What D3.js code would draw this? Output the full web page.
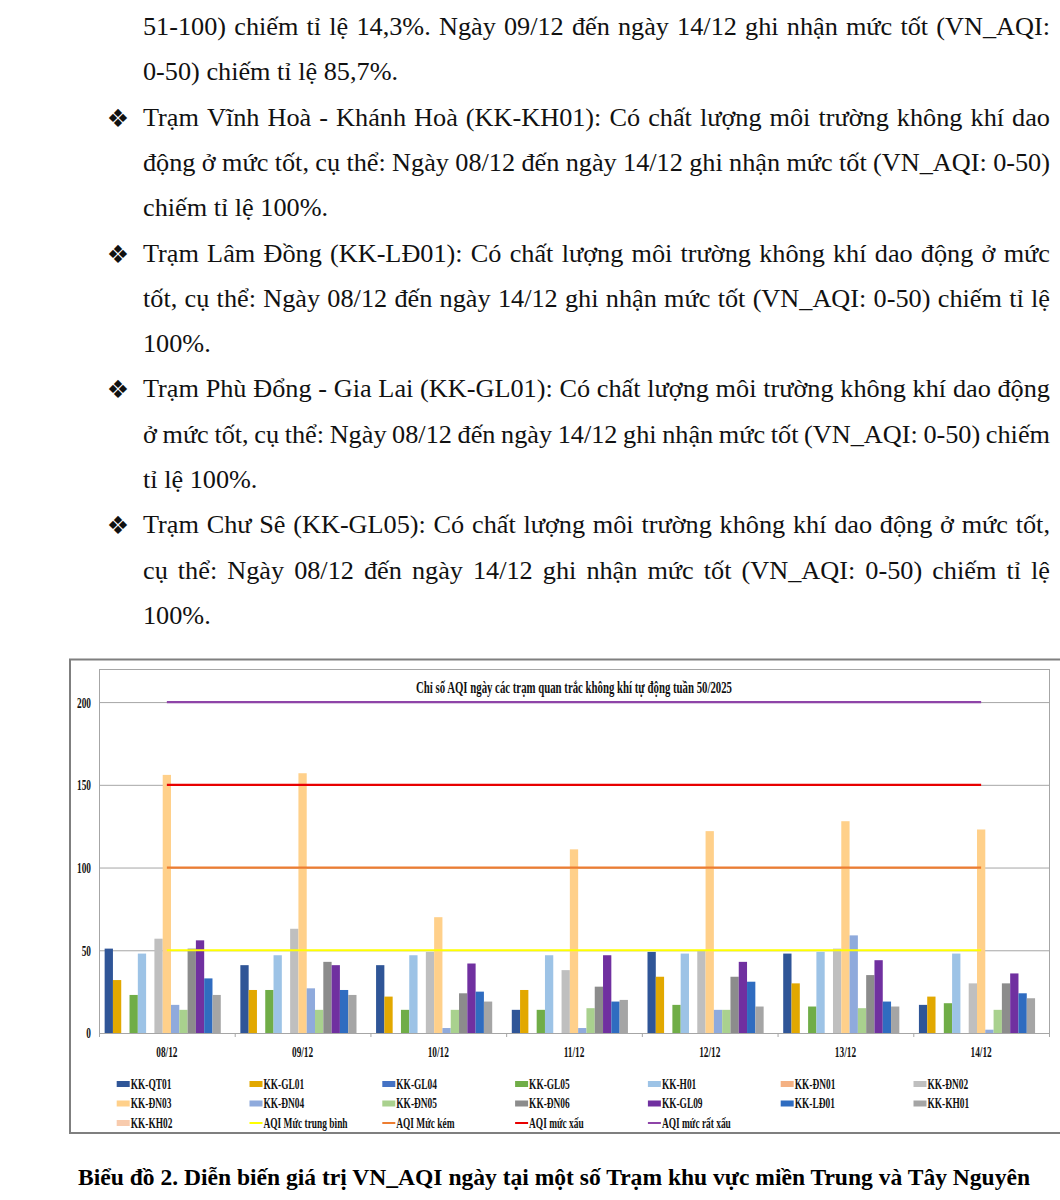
<!DOCTYPE html>
<html>
<head>
<meta charset="utf-8">
<script src="https://cdn.jsdelivr.net/npm/d3@7"></script>
<style>
  body { margin: 0; background: #fff; }
  svg { display: block; }
  .body-text { font-family: "Liberation Serif", "Times New Roman", serif; font-size: 25px; fill: #111; }
  .bullet { font-family: "DejaVu Sans", sans-serif; font-size: 25px; fill: #111; }
  .chart-text { font-family: "Liberation Serif", "Times New Roman", serif; font-weight: bold; fill: #111; }
  .caption { font-family: "Liberation Serif", "Times New Roman", serif; font-weight: bold; font-size: 23px; fill: #000; }
</style>
</head>
<body>
<div id="page"></div>
<script>
// report text above the chart (one entry per printed line)
var textLines = [
  {t: "51-100) chiếm tỉ lệ 14,3%. Ngày 09/12 đến ngày 14/12 ghi nhận mức tốt (VN_AQI:", bullet: false, justify: true},
  {t: "0-50) chiếm tỉ lệ 85,7%.", bullet: false, justify: false},
  {t: "Trạm Vĩnh Hoà - Khánh Hoà (KK-KH01): Có chất lượng môi trường không khí dao", bullet: true, justify: true},
  {t: "động ở mức tốt, cụ thể: Ngày 08/12 đến ngày 14/12 ghi nhận mức tốt (VN_AQI: 0-50)", bullet: false, justify: true},
  {t: "chiếm tỉ lệ 100%.", bullet: false, justify: false},
  {t: "Trạm Lâm Đồng (KK-LĐ01): Có chất lượng môi trường không khí dao động ở mức", bullet: true, justify: true},
  {t: "tốt, cụ thể: Ngày 08/12 đến ngày 14/12 ghi nhận mức tốt (VN_AQI: 0-50) chiếm tỉ lệ", bullet: false, justify: true},
  {t: "100%.", bullet: false, justify: false},
  {t: "Trạm Phù Đổng - Gia Lai (KK-GL01): Có chất lượng môi trường không khí dao động", bullet: true, justify: true},
  {t: "ở mức tốt, cụ thể: Ngày 08/12 đến ngày 14/12 ghi nhận mức tốt (VN_AQI: 0-50) chiếm", bullet: false, justify: true},
  {t: "tỉ lệ 100%.", bullet: false, justify: false},
  {t: "Trạm Chư Sê (KK-GL05): Có chất lượng môi trường không khí dao động ở mức tốt,", bullet: true, justify: true},
  {t: "cụ thể: Ngày 08/12 đến ngày 14/12 ghi nhận mức tốt (VN_AQI: 0-50) chiếm tỉ lệ", bullet: false, justify: true},
  {t: "100%.", bullet: false, justify: false}
];

var chartTitle = "Chỉ số AQI ngày các trạm quan trắc không khí tự động tuần 50/2025";
var caption = "Biểu đồ 2. Diễn biến giá trị VN_AQI ngày tại một số Trạm khu vực miền Trung và Tây Nguyên";

// chart data
var days = ["08/12", "09/12", "10/12", "11/12", "12/12", "13/12", "14/12"];
var stations = ["KK-QT01", "KK-GL01", "KK-GL04", "KK-GL05", "KK-H01", "KK-ĐN01", "KK-ĐN02", "KK-ĐN03",
                "KK-ĐN04", "KK-ĐN05", "KK-ĐN06", "KK-GL09", "KK-LĐ01", "KK-KH01", "KK-KH02"];

var QT01 = [51, 41, 41, 14, 49, 48, 17];
var GL01 = [32, 26, 22, 26, 34, 30, 22];
var GL04 = [null, null, null, null, null, null, null];
var GL05 = [23, 26, 14, 14, 17, 16, 18];
var H01  = [48, 47, 47, 47, 48, 49, 48];
var DN01 = [null, null, null, null, null, null, null];
var DN02 = [57, 63, 49, 38, 50, 51, 30];
var DN03 = [156, 157, 70, 111, 122, 128, 123];
var DN04 = [17, 27, 3, 3, 14, 59, 2];
var DN05 = [14, 14, 14, 15, 14, 15, 14];
var DN06 = [51, 43, 24, 28, 34, 35, 30];
var GL09 = [56, 41, 42, 47, 43, 44, 36];
var LD01 = [33, 26, 25, 19, 31, 19, 24];
var KH01 = [23, 23, 19, 20, 16, 16, 21];
var KH02 = [null, null, null, null, null, null, null];

var seriesValues = [QT01, GL01, GL04, GL05, H01, DN01, DN02, DN03, DN04, DN05, DN06, GL09, LD01, KH01, KH02];

// AQI level lines
var levelNames = ["AQI Mức trung bình", "AQI Mức kém", "AQI mức xấu", "AQI mức rất xấu"];
var levelTB   = [50, 50, 50, 50, 50, 50, 50];
var levelKem  = [100, 100, 100, 100, 100, 100, 100];
var levelXau  = [150, 150, 150, 150, 150, 150, 150];
var levelRX   = [200, 200, 200, 200, 200, 200, 200];
var levelValues = [levelTB, levelKem, levelXau, levelRX];

var yTicks = [0, 50, 100, 150, 200];

// colours
var barColors = ["#2F5597", "#E2A800", "#4472C4", "#70AD47", "#9DC3E6", "#F4B183", "#BFBFBF", "#FFD08A",
                 "#8FAADC", "#A9D18E", "#8C8C8C", "#7030A0", "#2F6CC0", "#A5A5A5", "#F8CBAD"];
var levelColors = ["#FFFF00", "#ED7D31", "#E80000", "#8E44A8"];

var W = 1060, H = 1200;
var svg = d3.select("#page").append("svg").attr("width", W).attr("height", H);

// ---- text paragraphs (page scan is a little wider than the font) ----
var textLeft = 143, textRight = 1050, stretch = 1.05;
textLines.forEach(function(line, i) {
  var yb = 35 + i * 45.3;
  if (line.bullet) {
    svg.append("text").attr("class", "bullet").attr("x", 118).attr("y", yb + 1)
      .attr("text-anchor", "middle").text("\u2756");
  }
  var g = svg.append("g").attr("transform", "translate(" + textLeft + "," + yb + ") scale(" + stretch + ",1)");
  var t = g.append("text").attr("class", "body-text");
  if (!line.justify) {
    t.attr("x", 0).text(line.t);
    return;
  }
  var words = line.t.split(" ");
  var spans = words.map(function(w) { return t.append("tspan").text(w); });
  var widths = spans.map(function(s) { return s.node().getComputedTextLength(); });
  var gap = ((textRight - textLeft) / stretch - d3.sum(widths)) / (words.length - 1);
  var x = 0;
  spans.forEach(function(s, k) { s.attr("x", x); x += widths[k] + gap; });
});

// squeeze chart texts horizontally, like the pasted picture
function squeeze(sel, ratio) {
  sel.each(function() {
    var w = this.getComputedTextLength();
    d3.select(this).attr("textLength", w * ratio).attr("lengthAdjust", "spacingAndGlyphs");
  });
}

// ---- chart ----
var plot = {left: 99, right: 1049, top: 669, bottom: 1033};

svg.append("rect")
  .attr("x", 70).attr("y", 659.5).attr("width", 1010).attr("height", 473.5)
  .attr("fill", "none").attr("stroke", "#7F7F7F").attr("stroke-width", 2);

var x0 = d3.scaleBand().domain(days).range([plot.left, plot.right]);
var x1 = d3.scaleBand().domain(stations).range([0, x0.bandwidth()]).paddingInner(0).paddingOuter(0.68);
var y = d3.scaleLinear().domain([0, 220]).range([plot.bottom, plot.top]);

// grid lines
svg.append("g").selectAll("line").data(yTicks.slice(1)).enter().append("line")
  .attr("x1", plot.left).attr("x2", plot.right)
  .attr("y1", function(d) { return y(d) + 0.5; }).attr("y2", function(d) { return y(d) + 0.5; })
  .attr("stroke", "#A6A6A6").attr("stroke-width", 1);

// bars
var groups = svg.append("g").selectAll("g").data(days).enter().append("g")
  .attr("transform", function(d) { return "translate(" + x0(d) + ",0)"; });

groups.selectAll("rect")
  .data(function(d, i) {
    return stations.map(function(s, k) { return {station: s, k: k, value: seriesValues[k][i]}; })
      .filter(function(e) { return e.value != null; });
  })
  .enter().append("rect")
    .attr("x", function(d) { return x1(d.station); })
    .attr("width", x1.bandwidth())
    .attr("y", function(d) { return y(d.value); })
    .attr("height", function(d) { return y(0) - y(d.value); })
    .attr("fill", function(d) { return barColors[d.k]; });

// level lines
var line = d3.line()
  .x(function(d, i) { return x0(days[i]) + x0.bandwidth() / 2; })
  .y(function(d) { return y(d); });

svg.append("g").selectAll("path").data(levelValues).enter().append("path")
  .attr("d", line)
  .attr("fill", "none")
  .attr("stroke", function(d, i) { return levelColors[i]; })
  .attr("stroke-width", 2.2);

// plot frame
svg.append("rect")
  .attr("x", plot.left + 0.5).attr("y", plot.top + 0.5)
  .attr("width", plot.right - plot.left).attr("height", plot.bottom - plot.top)
  .attr("fill", "none").attr("stroke", "#A6A6A6").attr("stroke-width", 1);

// y axis
var yAxis = svg.append("g")
  .attr("transform", "translate(" + plot.left + ",0)")
  .call(d3.axisLeft(y).tickValues(yTicks).tickSize(0).tickPadding(8));
yAxis.select(".domain").remove();
yAxis.selectAll("text")
  .attr("class", "chart-text").attr("font-size", 15).attr("dy", "0.33em")
  .attr("font-family", null);
squeeze(yAxis.selectAll("text"), 0.62);

// x axis
var xAxis = svg.append("g")
  .attr("transform", "translate(0," + plot.bottom + ")")
  .call(d3.axisBottom(x0).tickSize(0).tickPadding(13));
xAxis.select(".domain").attr("stroke", "#A6A6A6");
xAxis.selectAll("text")
  .attr("class", "chart-text").attr("font-size", 15);
squeeze(xAxis.selectAll("text"), 0.62);

// category separator ticks
var bounds = days.map(function(d) { return x0(d); }).concat([plot.right]);
svg.append("g").selectAll("line").data(bounds).enter().append("line")
  .attr("x1", function(d) { return d + 0.5; }).attr("x2", function(d) { return d + 0.5; })
  .attr("y1", plot.bottom).attr("y2", plot.bottom + 4)
  .attr("stroke", "#A6A6A6");

// title
var title = svg.append("text").attr("class", "chart-text")
  .attr("x", (plot.left + plot.right) / 2).attr("y", 693)
  .attr("text-anchor", "middle").attr("font-size", 17).text(chartTitle);
title.attr("textLength", 316).attr("lengthAdjust", "spacingAndGlyphs");

// legend
var legendItems = stations.map(function(s, k) { return {name: s, type: "bar", color: barColors[k]}; })
  .concat(levelNames.map(function(n, k) { return {name: n, type: "line", color: levelColors[k]}; }));

var legend = svg.append("g").selectAll("g").data(legendItems).enter().append("g")
  .attr("transform", function(d, i) {
    var col = i % 7, row = Math.floor(i / 7);
    return "translate(" + (116.7 + col * 132.8) + "," + [1084, 1103.5, 1123][row] + ")";
  });

legend.filter(function(d) { return d.type === "bar"; }).append("rect")
  .attr("x", 0).attr("y", -3).attr("width", 13).attr("height", 6)
  .attr("fill", function(d) { return d.color; });

legend.filter(function(d) { return d.type === "line"; }).append("line")
  .attr("x1", 0).attr("x2", 13).attr("y1", 0).attr("y2", 0)
  .attr("stroke", function(d) { return d.color; }).attr("stroke-width", 2);

var legendText = legend.append("text").attr("class", "chart-text")
  .attr("x", 14).attr("y", 4.5).attr("font-size", 14)
  .text(function(d) { return d.name; });
squeeze(legendText, 0.67);

// caption
var cap = svg.append("text").attr("class", "caption")
  .attr("x", 554).attr("y", 1185).attr("text-anchor", "middle").text(caption);
cap.attr("textLength", 952).attr("lengthAdjust", "spacingAndGlyphs");
</script>
</body>
</html>
